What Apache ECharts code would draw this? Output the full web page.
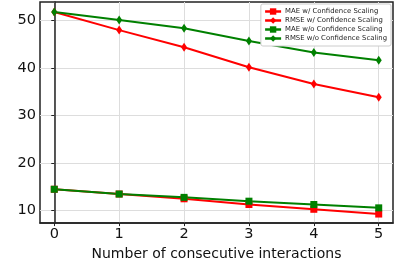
<!DOCTYPE html>
<html><head><meta charset="utf-8">
<script src="https://cdn.jsdelivr.net/npm/echarts@6/dist/echarts.min.js"></script>
<style>html,body{margin:0;padding:0;background:#fff}#c{width:399px;height:266px}</style>
</head><body><div id="c"></div>
<script>
const xValues = [0, 1, 2, 3, 4, 5];
const maeWith = [14.5, 13.5, 12.5, 11.3, 10.3, 9.3];
const rmseWith = [51.7, 47.9, 44.3, 40.1, 36.6, 33.8];
const maeWithout = [14.5, 13.5, 12.8, 12.0, 11.3, 10.6];
const rmseWithout = [51.7, 50.0, 48.3, 45.6, 43.2, 41.6];
const yTicks = [10, 20, 30, 40, 50];
const names = ['MAE w/ Confidence Scaling', 'RMSE w/ Confidence Scaling', 'MAE w/o Confidence Scaling', 'RMSE w/o Confidence Scaling'];

const chart = echarts.init(document.getElementById('c'), null, {renderer: 'canvas'});
const font = 'DejaVu Sans';
function mk(name, vals, color, symbol, size) {
  return {
    name: name, type: 'line', data: xValues.map((x, i) => [x, vals[i]]),
    symbol: symbol, symbolSize: size, showSymbol: true,
    lineStyle: {color: color, width: 2}, itemStyle: {color: color},
    emphasis: {disabled: true}, animation: false, z: 3
  };
}
chart.setOption({
  animation: false,
  grid: {left: 40, right: 6, top: 2, bottom: 33, show: true, borderColor: '#222', borderWidth: 1.5},
  legend: {
    orient: 'vertical', right: 8, top: 4, itemWidth: 16, itemHeight: 8, itemGap: 2,
    padding: [4, 4, 4, 3], backgroundColor: '#fff', borderColor: '#ccc', borderWidth: 1, borderRadius: 2,
    lineStyle: {width: 2.5},
    textStyle: {fontFamily: font, fontSize: 6.9, color: '#222', padding: [0, 0, 0, -1]},
    data: names
  },
  xAxis: {
    type: 'value', min: -0.22, max: 5.22,
    name: 'Number of consecutive interactions', nameLocation: 'middle', nameGap: 21,
    nameTextStyle: {fontFamily: font, fontSize: 14, color: '#111'},
    axisLine: {show: true, lineStyle: {color: '#222', width: 1.5}},
    axisTick: {show: true, customValues: xValues, length: 3, lineStyle: {color: '#222'}},
    axisLabel: {customValues: xValues, fontFamily: font, fontSize: 14.5, color: '#111', margin: 4},
    splitLine: {show: true, lineStyle: {color: '#ddd', width: 1}}
  },
  yAxis: {
    type: 'value', min: 7.4, max: 53.8,
    axisLine: {show: true, lineStyle: {color: '#222', width: 1.5}},
    axisTick: {show: true, customValues: yTicks, length: 3, lineStyle: {color: '#222'}},
    axisLabel: {customValues: yTicks, fontFamily: font, fontSize: 14.5, color: '#111', margin: 4},
    splitLine: {show: true, lineStyle: {color: '#ddd', width: 1}}
  },
  series: [
    mk(names[0], maeWith, '#ff0000', 'rect', 7),
    mk(names[1], rmseWith, '#ff0000', 'diamond', [6, 9]),
    mk(names[2], maeWithout, '#008000', 'rect', 7),
    mk(names[3], rmseWithout, '#008000', 'diamond', [6, 9])
  ]
});
</script></body></html>
